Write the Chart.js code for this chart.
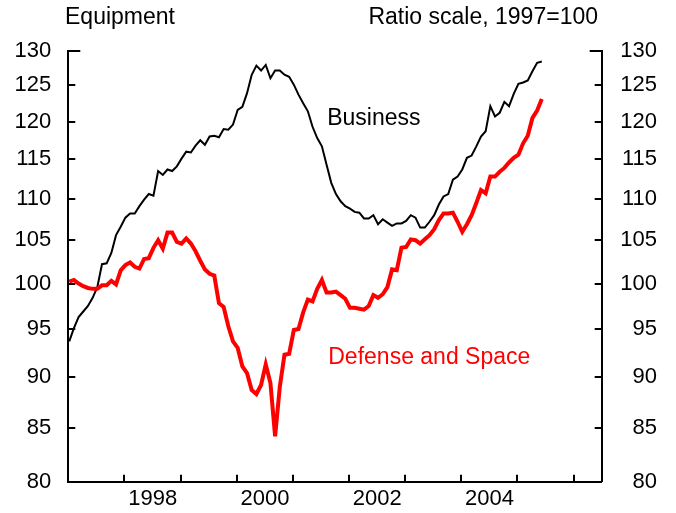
<!DOCTYPE html>
<html>
<head>
<meta charset="utf-8">
<script src="https://cdn.jsdelivr.net/npm/chart.js@4.4.1/dist/chart.umd.min.js"></script>
<style>
  html, body { margin: 0; padding: 0; background: #fff; }
</style>
</head>
<body>
<canvas id="myChart" width="676" height="513"></canvas>
<script>
// monthly index, Jan 1997 .. Jun 2005 (1997 = 100, ratio scale)
const startYear = 1997;

const business = [
  93.7, 95.1, 96.3, 96.9, 97.5, 98.4, 99.6, 102.2, 102.3, 103.5,
  105.6, 106.6, 107.7, 108.2, 108.2, 109.1, 109.9, 110.6, 110.4, 113.5,
  113.0, 113.7, 113.5, 114.1, 115.1, 116.0, 115.9, 116.8, 117.5, 116.9,
  118.0, 118.1, 117.9, 119.0, 118.9, 119.6, 121.6, 122.0, 123.9, 126.5,
  127.8, 127.1, 127.9, 126.0, 127.1, 127.1, 126.5, 126.2, 125.1, 123.7,
  122.5, 121.4, 119.3, 117.8, 116.7, 114.3, 112.0, 110.6, 109.7, 109.1,
  108.8, 108.4, 108.3, 107.6, 107.6, 108.0, 106.9, 107.5, 107.1, 106.7,
  107.0, 107.0, 107.3, 108.0, 107.7, 106.5, 106.5, 107.2, 108.0, 109.3,
  110.3, 110.6, 112.4, 112.8, 113.7, 115.2, 115.5, 116.7, 118.0, 118.7,
  122.1, 120.7, 121.2, 122.7, 122.1, 123.8, 125.2, 125.4, 125.7, 127.0,
  128.2, 128.4
];

const defense = [
  100.2, 100.4, 100.0, 99.7, 99.5, 99.4, 99.4, 99.8, 99.8, 100.3,
  99.9, 101.5, 102.1, 102.4, 101.9, 101.7, 102.8, 102.9, 104.1, 105.0,
  104.0, 105.9, 105.9, 104.8, 104.6, 105.2, 104.6, 103.7, 102.6, 101.6,
  101.1, 100.9, 97.8, 97.4, 95.3, 93.7, 93.0, 91.1, 90.4, 88.7,
  88.3, 89.2, 91.3, 89.4, 84.2, 89.0, 92.3, 92.4, 94.9, 95.0,
  96.8, 98.2, 98.0, 99.4, 100.4, 99.0, 99.0, 99.1, 98.7, 98.3,
  97.3, 97.3, 97.2, 97.1, 97.5, 98.7, 98.4, 98.8, 99.6, 101.6,
  101.5, 104.1, 104.2, 105.1, 105.0, 104.6, 105.1, 105.6, 106.3, 107.4,
  108.2, 108.2, 108.3, 107.2, 106.0, 106.9, 108.0, 109.5, 111.1, 110.7,
  112.8, 112.8, 113.4, 113.9, 114.6, 115.2, 115.6, 117.1, 118.1, 120.5,
  121.5, 123.1
];

const yTicks = [80, 85, 90, 95, 100, 105, 110, 115, 120, 125, 130];
const xTicks = [1998, 1999, 2000, 2001, 2002, 2003, 2004, 2005, 2006];
const xLabels = [1998, 2000, 2002, 2004];

const FONT = '"Liberation Sans", Arial, Helvetica, sans-serif';

function toPoints(arr) {
  return arr.map((v, i) => ({ x: startYear + (i + 0.2) / 12, y: v }));
}

// tick marks point inward, plus the titles and series labels
const decorations = {
  id: 'decorations',
  afterDraw(chart) {
    const { ctx, chartArea: a, scales } = chart;
    ctx.save();
    ctx.strokeStyle = '#000';
    ctx.lineWidth = 2;
    ctx.beginPath();
    yTicks.forEach(v => {
      const y = Math.round(scales.y.getPixelForValue(v));
      const len = v === 130 ? 12 : 7;
      ctx.moveTo(a.left, y); ctx.lineTo(a.left + len, y);
      ctx.moveTo(a.right, y); ctx.lineTo(a.right - len, y);
    });
    xTicks.forEach(v => {
      const x = Math.round(scales.x.getPixelForValue(v));
      ctx.moveTo(x, a.bottom); ctx.lineTo(x, a.bottom - 7);
    });
    ctx.stroke();

    ctx.font = '23px ' + FONT;
    ctx.textBaseline = 'middle';
    ctx.fillStyle = '#000';
    ctx.textAlign = 'left';
    ctx.fillText('Equipment', 65, 18);
    ctx.textAlign = 'right';
    ctx.fillText('Ratio scale, 1997=100', 598, 18);

    ctx.textAlign = 'left';
    ctx.fillText('Business', scales.x.getPixelForValue(2001.61), scales.y.getPixelForValue(120.4));
    ctx.fillStyle = '#ff0000';
    ctx.fillText('Defense and Space', scales.x.getPixelForValue(2001.63), scales.y.getPixelForValue(91.96));
    ctx.restore();
  }
};

const yAxisBase = {
  type: 'logarithmic',
  min: 80,
  max: 130,
  grid: { display: false, drawTicks: false },
  border: { display: true, color: '#000', width: 2 },
  afterBuildTicks: scale => { scale.ticks = yTicks.map(v => ({ value: v })); },
  ticks: {
    color: '#000',
    font: { family: FONT, size: 22 },
    padding: 17,
    callback: v => String(v)
  }
};

const ctx = document.getElementById('myChart');
new Chart(ctx, {
  type: 'line',
  data: {
    datasets: [
      {
        label: 'Defense and Space',
        data: toPoints(defense),
        borderColor: '#ff0000',
        borderWidth: 4,
        pointRadius: 0,
        tension: 0,
        yAxisID: 'y'
      },
      {
        label: 'Business',
        data: toPoints(business),
        borderColor: '#000000',
        borderWidth: 2,
        pointRadius: 0,
        tension: 0,
        yAxisID: 'y'
      }
    ]
  },
  options: {
    responsive: false,
    animation: false,
    devicePixelRatio: 1,
    layout: { padding: { top: 50.5, right: 19, bottom: 0, left: 0 } },
    plugins: {
      legend: { display: false },
      tooltip: { enabled: false },
      title: { display: false }
    },
    scales: {
      x: {
        type: 'linear',
        position: 'bottom',
        min: 1997,
        max: 2006.5,
        grid: { display: false, drawTicks: false },
        border: { display: true, color: '#000', width: 2 },
        afterBuildTicks: scale => { scale.ticks = xTicks.map(v => ({ value: v })); },
        afterFit: scale => { scale.height = 31.3; },
        ticks: {
          color: '#000',
          font: { family: FONT, size: 22 },
          padding: 4,
          labelOffset: 28.2,
          maxRotation: 0,
          autoSkip: false,
          callback: v => (xLabels.includes(v) ? String(v) : '')
        }
      },
      y: Object.assign({}, yAxisBase, {
        position: 'left',
        afterFit: scale => { scale.width = 68.3; }
      }),
      y2: Object.assign({}, yAxisBase, {
        position: 'right',
        display: true,
        ticks: Object.assign({}, yAxisBase.ticks, { crossAlign: 'far' }),
        afterFit: scale => { scale.width = 55.3; }
      })
    }
  },
  plugins: [decorations]
});
</script>
</body>
</html>
